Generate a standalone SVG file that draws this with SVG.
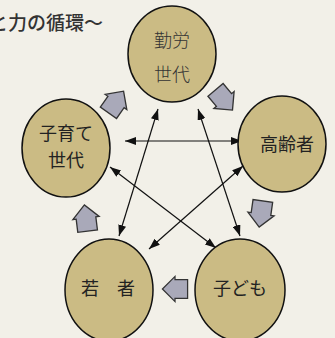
<svg xmlns="http://www.w3.org/2000/svg" width="335" height="338" viewBox="0 0 335 338">
<defs>
<style>
.node{fill:#cbbb84;stroke:#111;stroke-width:1.5}
.lbl{font-family:"Noto Sans CJK JP","Noto Sans",sans-serif;font-size:18px;fill:#222;text-anchor:middle}
.lbl2{font-family:"Noto Sans CJK JP","Noto Sans",sans-serif;font-size:18px;fill:#333;text-anchor:middle;font-weight:300}
.ln{stroke:#111;stroke-width:1.2;fill:none;marker-start:url(#ah);marker-end:url(#ah)}
.blk{fill:#a9a9b9;stroke:#333;stroke-width:1.2;stroke-linejoin:miter}
</style>
<marker id="ah" viewBox="0 0 11 8" refX="11" refY="4" markerWidth="11" markerHeight="8" markerUnits="userSpaceOnUse" orient="auto-start-reverse">
<path d="M0,0 L11,4 L0,8 Z" fill="#111"/>
</marker>
<path id="blk" d="M-12,-9 L0,-9 L0,-12 L12,0 L0,12 L0,9 L-12,9 Z"/>
</defs>
<rect width="335" height="338" fill="#f2f0e8"/>
<text x="-11" y="30" font-family="'Noto Sans CJK JP','Noto Sans',sans-serif" font-size="19" fill="#333" font-weight="500">と力の循環～</text>

<g id="connectors">
<line class="ln" x1="125" y1="141" x2="242" y2="141"/>
<line class="ln" x1="158" y1="109" x2="119" y2="236"/>
<line class="ln" x1="198" y1="109" x2="240" y2="236"/>
<line class="ln" x1="110" y1="167" x2="216" y2="248"/>
<line class="ln" x1="243" y1="166" x2="149" y2="249"/>
<use href="#blk" class="blk" transform="translate(116,102) rotate(-55) scale(1.1)"/>
<use href="#blk" class="blk" transform="translate(224,100) rotate(50) scale(1.1)"/>
<use href="#blk" class="blk" transform="translate(261,214) rotate(98) scale(1.1)"/>
<use href="#blk" class="blk" transform="translate(175,289) rotate(180) scale(1.05)"/>
<use href="#blk" class="blk" transform="translate(86,218) rotate(-97) scale(1.1)"/>
</g>

<g id="kinrou">
<ellipse class="node" cx="172" cy="54" rx="44" ry="48"/>
<text class="lbl2" x="172" y="47">勤労</text>
<text class="lbl2" x="172" y="81">世代</text>
</g>
<g id="kosodate">
<ellipse class="node" cx="66" cy="148" rx="44" ry="49"/>
<text class="lbl" x="66" y="140">子育て</text>
<text class="lbl" x="66" y="167">世代</text>
</g>
<g id="koureisha">
<ellipse class="node" cx="282" cy="144" rx="44" ry="48"/>
<text class="lbl" x="287" y="151">高齢者</text>
</g>
<g id="wakamono">
<ellipse class="node" cx="109" cy="290" rx="44" ry="51"/>
<text class="lbl" x="108" y="295">若　者</text>
</g>
<g id="kodomo">
<ellipse class="node" cx="240" cy="290" rx="45" ry="51"/>
<text class="lbl" x="240" y="295">子ども</text>
</g>
</svg>
